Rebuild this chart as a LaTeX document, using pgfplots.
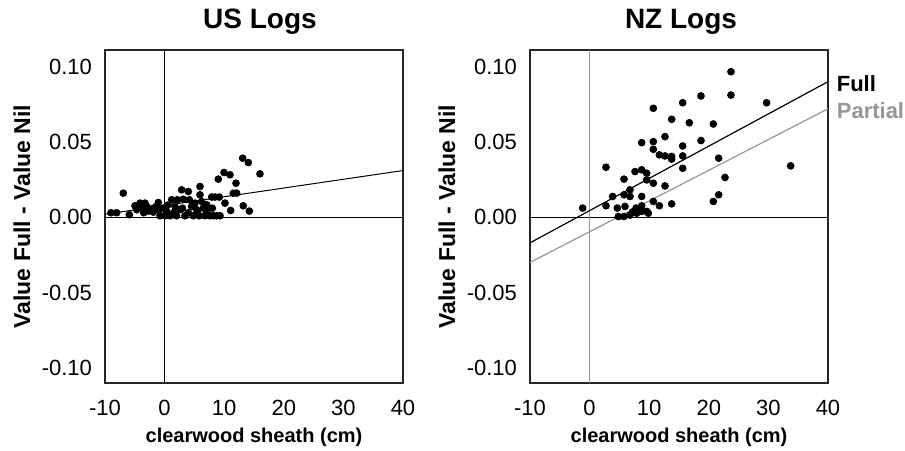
\documentclass[border=0pt]{standalone}
\usepackage{fontspec}
\setmainfont{Liberation Sans}
\usepackage{pgfplots}
\pgfplotsset{compat=1.18}
\definecolor{partgray}{RGB}{150,150,150}

\pgfplotsset{panel/.style={
    scale only axis, width=149pt, height=166.5pt,
    xmin=-10, xmax=40, ymin=-0.11, ymax=0.111,
    xtick={-10,0,...,40}, ytick={-0.1,-0.05,0,0.05,0.1},
    major tick length=0pt,
    scaled y ticks=false,
    /pgf/number format/assume math mode=true,
    yticklabel style={/pgf/number format/fixed, /pgf/number format/precision=2,
        /pgf/number format/fixed zerofill, font=\fontsize{11}{13}\selectfont, xshift=-3pt},
    xticklabel style={font=\fontsize{11}{13}\selectfont, yshift=-5pt},
    axis line style={line width=0.7pt, black!85},
    xlabel={clearwood sheath (cm)},
    ylabel={Value Full - Value Nil},
    xlabel style={at={(axis description cs:0.5,-0.162)}, anchor=center, font=\bfseries\fontsize{10}{12}\selectfont},
    ylabel style={at={(axis description cs:-0.2785,0.5)}, anchor=center, font=\bfseries\fontsize{11.5}{13}\selectfont},
    title style={at={(0.5,1)}, anchor=base, yshift=5pt, font=\bfseries\fontsize{14}{16}\selectfont},
    clip=false,
}}

\begin{document}
\begin{tikzpicture}
\path[use as bounding box] (0,0) rectangle (452.5pt,-225pt);

% left panel
\begin{axis}[panel, at={(52.5pt,-191.5pt)}, anchor=south west, title={US Logs}, title style={xshift=3pt}]
\addplot[black, line width=0.6pt] coordinates {(-10,0)(40,0)};
\addplot[black, line width=0.6pt] coordinates {(0,-0.11)(0,0.111)};
\addplot[black, line width=0.5pt] coordinates {(-10,0.002)(40,0.031)};
\addplot[only marks, mark=*, mark size=1.7pt, black] coordinates {
(-6.93,0.016)(-8.04,0.003)(-5.92,0.0017)(-4.97,0.0076)(-4.69,0.005)
(-4.13,0.0094)(-3.85,0.0063)(-3.29,0.0094)(-3.01,0.0072)(-2.73,0.0041)
(-2.17,0.0056)(-1.89,0.0034)(-1.05,0.0098)(-0.88,0.005)(-0.77,0.001)
(-0.22,0.0061)(0.06,0.001)(0.35,0.0038)(0.9,0.001)(1.19,0.0116)
(1.74,0.0072)(2.14,0.0116)(2.58,0.005)(2.86,0.0182)(3.14,0.012)
(3.42,0.001)(3.98,0.0171)(4.15,0.0116)(4.54,0.0072)(4.82,0.001)
(5.1,0.0094)(5.38,0.005)(5.94,0.0204)(5.94,0.0149)(6.22,0.0105)
(6.5,0.0061)(6.78,0.001)(7.06,0.0083)(7.62,0.001)(7.9,0.0134)
(8.18,0.001)(8.46,0.0134)(8.74,0.001)(9.01,0.0253)(9.18,0.0134)
(9.3,0.001)(9.97,0.0297)(10.13,0.0094)(10.97,0.0282)(11.08,0.0045)
(11.53,0.016)(11.98,0.0226)(12.09,0.016)(13.1,0.0392)(13.2,0.0076)
(14.05,0.0363)(14.22,0.0041)(16.0,0.0288)
(0.5,0.008)(1.5,0.003)(3.0,0.006)(4.0,0.003)(5.5,0.0035)(7.0,0.004)
(8.0,0.006)(-3.5,0.003)(-1.5,0.007)(-9.0,0.003)(2.0,0.001)(5.8,0.001)
};
\end{axis}

% right panel
\begin{axis}[panel, at={(265pt,-191.5pt)}, anchor=south west, title={NZ Logs}, title style={xshift=1pt}]
\addplot[black, line width=0.6pt] coordinates {(-10,0)(40,0)};
\addplot[partgray, line width=0.5pt] coordinates {(0,-0.11)(0,0.111)};
\addplot[partgray, line width=0.6pt] coordinates {(-10,-0.030)(40,0.072)};
\addplot[black, line width=0.6pt] coordinates {(-10,-0.017)(40,0.090)};
\addplot[only marks, mark=*, mark size=1.7pt, black] coordinates {
(-1.16,0.0061)(2.75,0.0332)(2.75,0.0076)(3.87,0.0138)(4.65,0.0061)
(4.82,0.0005)(5.77,0.0253)(5.77,0.0149)(5.77,0.0005)(5.94,0.0072)
(6.78,0.0182)(6.78,0.0138)(6.78,0.0014)(7.23,0.0036)(7.62,0.0303)
(7.8,0.0061)(7.9,0.0027)(8.74,0.0495)(8.74,0.0315)(8.74,0.0138)
(8.74,0.0076)(8.74,0.0039)(9.58,0.0292)(9.58,0.0248)(9.58,0.0039)
(9.86,0.0027)(10.69,0.0723)(10.69,0.0502)(10.69,0.0451)(10.69,0.0226)
(10.69,0.0105)(11.7,0.0414)(11.7,0.0076)(12.65,0.0535)(12.65,0.0407)
(12.65,0.0208)(13.77,0.065)(13.77,0.0404)(13.77,0.0386)(13.77,0.0089)
(15.62,0.076)(15.62,0.0473)(15.62,0.0407)(15.62,0.0325)(16.73,0.0627)
(18.69,0.0805)(18.69,0.0509)(20.76,0.0619)(20.76,0.0105)(21.66,0.0392)
(21.66,0.0149)(22.72,0.0264)(23.72,0.0966)(23.72,0.0811)(29.7,0.076)
(33.74,0.0341)
};
\node[anchor=west, font=\bfseries\fontsize{11}{13}\selectfont] at (axis cs:40.3,0.0885) {Full};
\node[anchor=west, font=\bfseries\fontsize{11}{13}\selectfont, text=partgray] at (axis cs:40.3,0.0705) {Partial};
\end{axis}
\end{tikzpicture}
\end{document}
